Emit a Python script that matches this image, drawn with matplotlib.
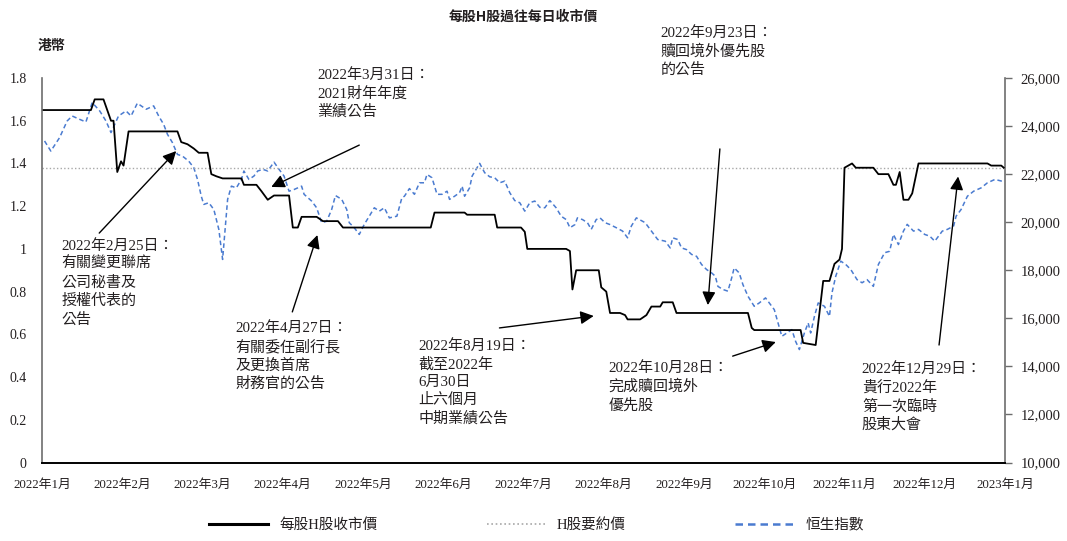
import numpy as np
import matplotlib.pyplot as plt
from matplotlib.lines import Line2D

plt.rcParams['font.family'] = ['Liberation Serif', 'Noto Sans CJK TC', 'DejaVu Sans']
TXT = '#231f20'
SANS = ['Noto Sans CJK TC', 'DejaVu Sans']

# x axis: days since 2022-01-01
hk_day = [2, 21.5, 23, 26.5, 29.5, 30.5, 32, 33.5, 34.5, 36.5, 56, 57.5, 60, 62.5, 64.5, 68,
          69.5, 71.5, 74, 81.5, 82.5, 87.5, 89.5, 92, 94.5, 100.5, 102, 104, 105.5, 111.5,
          114, 120, 122, 157, 158.5, 170.5, 171.5, 182.5, 183.5, 193, 194.5, 195.5, 211,
          212.5, 213.5, 215, 224, 225, 227, 228.5, 232.5, 234.5, 235.5, 240.5, 243, 245,
          248.5, 249.5, 253.5, 255, 283.5, 285, 286, 304.5, 305.5, 310.5, 312, 313.5, 316,
          318, 320, 321, 322, 325, 326.5, 333.5, 335.5, 339.5, 341.5, 342.5, 344, 345.5,
          347.5, 349, 351.5, 379, 380.5, 384.5, 385.5]
hk_price = [1.65, 1.65, 1.70, 1.70, 1.60, 1.60, 1.36, 1.41, 1.39, 1.55, 1.55, 1.50, 1.49,
            1.47, 1.45, 1.45, 1.35, 1.34, 1.33, 1.33, 1.30, 1.30, 1.27, 1.23, 1.25, 1.25,
            1.10, 1.10, 1.15, 1.15, 1.13, 1.13, 1.10, 1.10, 1.17, 1.17, 1.16, 1.16, 1.10,
            1.10, 1.08, 1.00, 1.00, 0.99, 0.81, 0.90, 0.90, 0.82, 0.80, 0.70, 0.70, 0.69,
            0.67, 0.67, 0.69, 0.73, 0.73, 0.75, 0.75, 0.70, 0.70, 0.63, 0.62, 0.62, 0.56,
            0.55, 0.70, 0.85, 0.85, 0.93, 0.95, 1.00, 1.38, 1.40, 1.38, 1.38, 1.35, 1.35,
            1.30, 1.30, 1.36, 1.23, 1.23, 1.26, 1.40, 1.40, 1.39, 1.39, 1.38]

hsi_day = [3, 5.5, 9, 12, 14, 17, 19.5, 22, 25, 27.5, 29.5, 32.5, 35.5, 37.5, 40, 43.5,
           46.5, 48.5, 50.5, 52, 54, 56, 58, 60.5, 62.5, 64, 65.5, 66.5, 68.5, 70.5, 72.5,
           74, 75, 76, 77.5, 79.5, 81.5, 82.5, 84.5, 86.5, 88, 90, 92, 94.5, 96.5, 98.5,
           100.5, 102.5, 105.5, 106.5, 109.5, 111.5, 113.5, 115.5, 117.5, 119, 121.5, 123.5,
           124.5, 126.5, 128.5, 130.5, 132.5, 134.5, 136.5, 138.5, 140.5, 143.5, 145.5,
           146.5, 148.5, 150.5, 152.5, 154.5, 155.5, 157.5, 159.5, 161.5, 163.5, 164.5,
           166.5, 168.5, 169.5, 170.5, 172.5, 173.5, 175.5, 176.5, 178.5, 180.5, 182.5,
           184.5, 186.5, 188.5, 190.5, 192.5, 194.5, 196.5, 198.5, 200.5, 202.5, 204.5,
           207, 209, 211, 212.5, 214.5, 215.5, 217.5, 219.5, 221, 223, 224.5, 226.5, 228.5,
           231, 233.5, 235.5, 237, 239, 242.5, 245, 247.5, 250.5, 252.5, 253.5, 255.5, 257,
           259, 261, 263, 265, 267, 269, 270.5, 271.5, 273.5, 275.5, 277, 278, 280, 281.5,
           283.5, 286, 288, 290.5, 294, 295.5, 297, 299, 301, 302.5, 304, 306, 307.5, 308.5,
           310, 311.5, 314, 316, 317, 318.5, 320.5, 322.5, 324.5, 327, 329, 331, 333.5,
           335.5, 338, 340, 341.5, 343.5, 345.5, 347, 349.5, 351.5, 354, 356, 358, 361,
           363, 365.5, 366.5, 368.5, 371, 373.5, 376.5, 379, 382, 385]
hsi_val = [23380, 22960, 23520, 24210, 24420, 24280, 24170, 24980, 24630, 24210, 23730,
           24420, 24630, 24420, 24950, 24700, 24840, 24420, 24070, 23660, 23310, 22820,
           22750, 22540, 22270, 21780, 21080, 20740, 20810, 20530, 19700, 18450, 19700,
           20950, 21500, 21430, 21780, 22130, 21780, 21920, 22130, 22200, 22130, 22500,
           22200, 21920, 21290, 21360, 21500, 21160, 20880, 20600, 19980, 20040, 20530,
           21110, 20950, 20530, 19980, 19770, 19490, 19910, 20250, 20600, 20460, 20600,
           20180, 20250, 21020, 21080, 21400, 21160, 21640, 21640, 21990, 21850, 21160,
           21160, 21290, 20950, 21080, 21230, 21500, 21080, 21430, 21920, 22270, 22450,
           22060, 21890, 21850, 21640, 21710, 21230, 20900, 20810, 20460, 20810, 20880,
           20620, 20600, 20900, 20600, 20250, 20110, 19770, 19900, 20180, 20110, 19980,
           19700, 20110, 20180, 19980, 19900, 19770, 19630, 19350, 19840, 20180, 19980,
           19630, 19280, 19210, 18930, 19350, 19280, 18930, 18860, 18660, 18580, 18240,
           18030, 17890, 17750, 17330, 17200, 17130, 17680, 18100, 17890, 17400, 16920,
           16500, 16640, 16850, 16360, 15810, 15250, 15390, 15530, 15040, 14700, 15390,
           15810, 15390, 16080, 16640, 16500, 16080, 17060, 17750, 18380, 18240, 18030,
           17610, 17480, 17610, 17330, 18240, 18730, 18790, 19490, 19070, 19630, 19910,
           19630, 19700, 19490, 19420, 19210, 19630, 19700, 19840, 20250, 20530, 21080,
           21290, 21430, 21640, 21780, 21700]

offer_price = 1.38

month_labels = ['2022年1月', '2022年2月', '2022年3月', '2022年4月', '2022年5月', '2022年6月',
                '2022年7月', '2022年8月', '2022年9月', '2022年10月', '2022年11月',
                '2022年12月', '2023年1月']
left_ticks = [0, 0.2, 0.4, 0.6, 0.8, 1.0, 1.2, 1.4, 1.6, 1.8]
left_labels = ['0', '0.2', '0.4', '0.6', '0.8', '1', '1.2', '1.4', '1.6', '1.8']
right_ticks = [10000, 12000, 14000, 16000, 18000, 20000, 22000, 24000, 26000]

# (text, text position, arrow tail, arrow tip) in data units of the left axis
notes = [
    ('2022年2月25日：\n有關變更聯席\n公司秘書及\n授權代表的\n公告', (9.6, 1.046), (24.8, 1.074), (55.5, 1.458)),
    ('2022年3月31日：\n2021財年年度\n業績公告', (111.8, 1.847), (128.5, 1.486), (93.4, 1.29)),
    ('2022年4月27日：\n有關委任副行長\n及更換首席\n財務官的公告', (79.0, 0.662), (101.8, 0.705), (111.8, 1.065)),
    ('2022年8月19日：\n截至2022年\n6月30日\n止六個月\n中期業績公告', (152.1, 0.578), (184.4, 0.63), (222.0, 0.686)),
    ('2022年9月23日：\n贖回境外優先股\n的公告', (248.7, 2.044), (272.3, 1.468), (267.5, 0.737)),
    ('2022年10月28日：\n完成贖回境外\n優先股', (227.9, 0.475), (277.4, 0.498), (294.6, 0.564)),
    ('2022年12月29日：\n貴行2022年\n第一次臨時\n股東大會', (328.9, 0.47), (359.7, 0.55), (367.3, 1.339)),
]

fig = plt.figure(figsize=(10.67, 5.41), dpi=100)
ax = fig.add_axes([0.0394, 0.1451, 0.9025, 0.7107])
ax2 = ax.twinx()

hsi_blue = '#4a7bd0'
ax2.plot(hsi_day, hsi_val, color=hsi_blue, lw=1.1, dashes=(3, 2))
ax.axhline(offer_price, color='#a8a8a8', lw=1, ls=(0, (1, 1.6)))
ax.plot(hk_day, hk_price, color='black', lw=1.3)
ax.set_zorder(ax2.get_zorder() + 1)
ax.patch.set_visible(False)

ax.set_xlim(2, 386)
ax.set_ylim(0, 1.8)
ax2.set_ylim(10000, 26000)

ax.set_xticks(np.linspace(2, 386, len(month_labels)))
ax.set_xticklabels(month_labels)
ax.set_yticks(left_ticks)
ax.set_yticklabels(left_labels)
ax2.set_yticks(right_ticks)
ax2.set_yticklabels([f'{v:,}' for v in right_ticks])

ax.tick_params(axis='x', length=0, pad=12, labelsize=9.3, labelcolor=TXT)
ax.tick_params(axis='y', length=0, pad=11, labelsize=10, labelcolor=TXT)
ax2.tick_params(axis='y', length=5, width=1, color='#6d6d6d', pad=6, labelsize=10.5, labelcolor=TXT)

for a in (ax, ax2):
    a.spines['top'].set_visible(False)
ax.spines['right'].set_visible(False)
ax.spines['left'].set_color('#6d6d6d')
ax.spines['left'].set_linewidth(1.2)
ax.spines['bottom'].set_color('black')
ax.spines['bottom'].set_linewidth(1.4)
ax2.spines['left'].set_visible(False)
ax2.spines['bottom'].set_visible(False)
ax2.spines['right'].set_color('#6d6d6d')
ax2.spines['right'].set_linewidth(1.2)

for text, pos, tail, tip in notes:
    ax.text(pos[0], pos[1], text, ha='left', va='top', fontsize=10.8, linespacing=1.38,
            color=TXT, clip_on=False)
    ax.annotate('', xy=tip, xytext=tail, annotation_clip=False,
                arrowprops=dict(arrowstyle='-|>', mutation_scale=20, lw=1,
                                color='black', shrinkA=0, shrinkB=0))

fig.text(0.49, 1 - 17 / 541, '每股H股過往每日收市價', ha='center', va='center',
         fontsize=10, fontweight='bold', family=SANS, color=TXT)
fig.text(38 / 1067, 1 - 46 / 541, '港幣', ha='left', va='center',
         fontsize=10, fontweight='bold', family=SANS, color=TXT)

handles = [Line2D([], [], color='black', lw=2.2),
           Line2D([], [], color='#a8a8a8', lw=1.2, ls=(0, (1, 1.6))),
           Line2D([], [], color=hsi_blue, lw=1.8, dashes=(3, 2))]
fig.legend(handles, ['每股H股收市價', 'H股要約價', '恒生指數'], loc='center',
           bbox_to_anchor=(0.503, 1 - 525 / 541), ncol=3, frameon=False,
           handlelength=4, columnspacing=7.5, handletextpad=0.8, fontsize=10.5,
           labelcolor=TXT)

fig.savefig('out.png', dpi=100)
